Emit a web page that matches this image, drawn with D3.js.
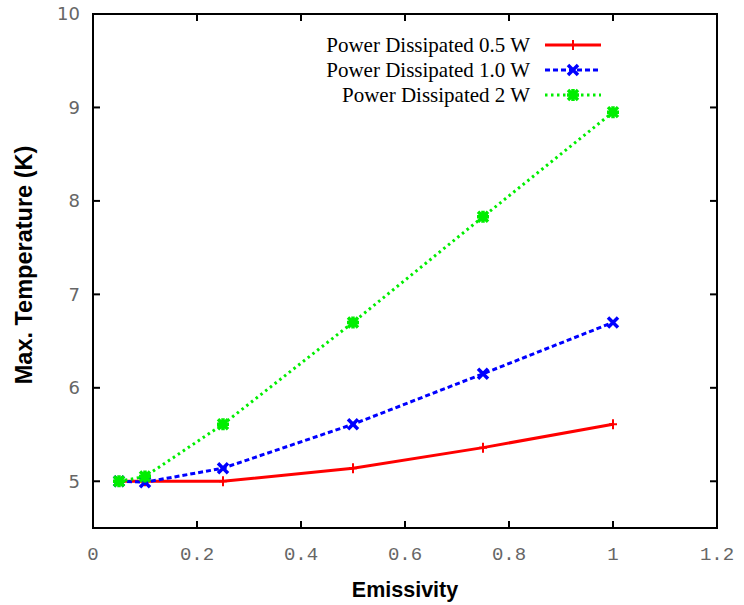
<!DOCTYPE html>
<html>
<head>
<meta charset="utf-8">
<script src="https://cdn.jsdelivr.net/npm/d3@7"></script>
<style>
body { margin: 0; background: #fff; }
svg { display: block; }
</style>
</head>
<body>
<div id="graph"></div>
<script>
var emissivity = [0.05, 0.1, 0.25, 0.5, 0.75, 1.0]
var temp05 = [5.0, 5.0, 5.0, 5.14, 5.36, 5.61]
var temp10 = [5.0, 4.99, 5.14, 5.61, 6.15, 6.70]
var temp20 = [5.0, 5.05, 5.61, 6.70, 7.83, 8.95]

var seriesNames = ['Power Dissipated 0.5 W', 'Power Dissipated 1.0 W', 'Power Dissipated 2 W']
var xTicks = [0, 0.2, 0.4, 0.6, 0.8, 1, 1.2]
var yTicks = [5, 6, 7, 8, 9, 10]

var series = [
	{name: seriesNames[0], vals: temp05, color: '#ff0000', dash: null, marker: 'plus'},
	{name: seriesNames[1], vals: temp10, color: '#0000ff', dash: '5,3', marker: 'cross'},
	{name: seriesNames[2], vals: temp20, color: '#00ee00', dash: '2.5,3.5', marker: 'star'},
]

var W = 744, H = 605
var margin = {top: 14, left: 93, right: 27, bottom: 77}
var width = W - margin.left - margin.right
var height = H - margin.top - margin.bottom

var svg = d3.select('#graph').append('svg').attr('width', W).attr('height', H)
var g = svg.append('g').attr('transform', 'translate(' + margin.left + ',' + margin.top + ')')

var x = d3.scaleLinear().domain([0, 1.2]).range([0, width])
var y = d3.scaleLinear().domain([4.5, 10]).range([height, 0])

// frame
g.append('rect').attr('width', width).attr('height', height)
	.attr('fill', 'none').attr('stroke', '#000').attr('stroke-width', 2)

// ticks pointing inward, mirrored
var tl = 7
xTicks.filter(d => d > 0 && d < 1.2).forEach(d => {
	g.append('line').attr('x1', x(d)).attr('x2', x(d)).attr('y1', height).attr('y2', height - tl)
		.attr('stroke', '#000').attr('stroke-width', 2)
	g.append('line').attr('x1', x(d)).attr('x2', x(d)).attr('y1', 0).attr('y2', tl)
		.attr('stroke', '#000').attr('stroke-width', 2)
})
yTicks.filter(d => d < 10).forEach(d => {
	g.append('line').attr('x1', 0).attr('x2', tl).attr('y1', y(d)).attr('y2', y(d))
		.attr('stroke', '#000').attr('stroke-width', 2)
	g.append('line').attr('x1', width).attr('x2', width - tl).attr('y1', y(d)).attr('y2', y(d))
		.attr('stroke', '#000').attr('stroke-width', 2)
})

g.selectAll('.xt').data(xTicks).enter().append('text')
	.attr('x', d => x(d)).attr('y', height + 32)
	.attr('text-anchor', 'middle')
	.style('font', '19px "Liberation Mono", monospace').attr('fill', '#666')
	.text(d => d)

g.selectAll('.yt').data(yTicks).enter().append('text')
	.attr('x', -13).attr('y', d => y(d)).attr('dy', '0.35em')
	.attr('text-anchor', 'end')
	.style('font', '18px "DejaVu Sans", sans-serif').attr('fill', '#666')
	.text(d => d)

svg.append('text').attr('x', 405).attr('y', 597)
	.attr('text-anchor', 'middle')
	.style('font', 'bold 21.5px "Liberation Sans", Arial, sans-serif')
	.text('Emissivity')

svg.append('text').attr('transform', 'translate(32,265) rotate(-90)')
	.attr('text-anchor', 'middle')
	.style('font', 'bold 23.5px "Liberation Sans", Arial, sans-serif')
	.text('Max. Temperature (K)')

function drawMarker(sel, type, color, cx, cy) {
	var m = sel.append('g').attr('transform', 'translate(' + cx + ',' + cy + ')')
	if (type == 'plus') {
		m.append('path').attr('d', 'M-4,0H4M0,-5V5').attr('stroke', color).attr('stroke-width', 2)
	} else if (type == 'cross') {
		m.append('path').attr('d', 'M-5,-5L5,5M-5,5L5,-5').attr('stroke', color).attr('stroke-width', 3.5)
	} else {
		m.append('path').attr('d', 'M-5,-5L5,5M-5,5L5,-5M-6,0H6M0,-6V6').attr('stroke', color).attr('stroke-width', 3.5)
		m.append('circle').attr('r', 3.5).attr('fill', color)
	}
}

var line = d3.line().x(d => x(d[0])).y(d => y(d[1]))

series.forEach(s => {
	var pts = emissivity.map((e, i) => [e, s.vals[i]])
	g.append('path').datum(pts).attr('d', line)
		.attr('fill', 'none').attr('stroke', s.color).attr('stroke-width', 3)
		.attr('stroke-dasharray', s.dash)
	pts.forEach(p => drawMarker(g, s.marker, s.color, x(p[0]), y(p[1])))
})

// legend
series.forEach((s, i) => {
	var ly = 45 + i * 25
	svg.append('text').attr('x', 530).attr('y', ly).attr('dy', '0.35em')
		.attr('text-anchor', 'end')
		.style('font', '21px "Liberation Serif", "Times New Roman", serif')
		.text(s.name)
	svg.append('line').attr('x1', 545).attr('x2', 601).attr('y1', ly).attr('y2', ly)
		.attr('stroke', s.color).attr('stroke-width', 3).attr('stroke-dasharray', s.dash)
	drawMarker(svg, s.marker, s.color, 573, ly)
})
</script>
</body>
</html>
